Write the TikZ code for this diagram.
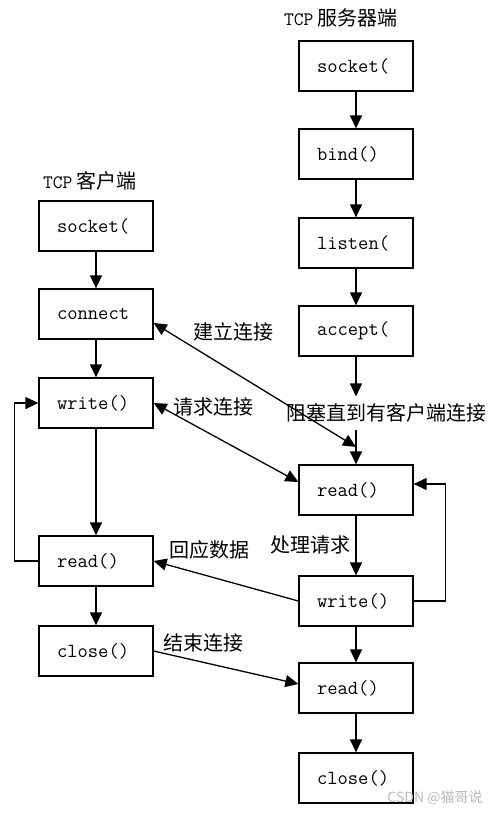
\documentclass[tikz,border=0pt]{standalone}
\usepackage{fontspec}
\newfontfamily\cjk{Noto Sans CJK SC}
\usetikzlibrary{arrows.meta,calc}

\begin{document}
\begin{tikzpicture}[x=1pt,y=-1pt]
        \tikzset{box/.style={draw,line width=1.3pt,minimum width=114pt,minimum height=50pt,
                inner xsep=18pt,text width=78pt,align=left,
                font=\fontsize{20}{22}\selectfont\ttfamily},
            lbl/.style={font=\fontsize{20}{24}\selectfont\cjk,inner sep=1pt},
            arr/.style={line width=1.3pt,-{Triangle[length=13pt,width=12pt]}},
            twoway/.style={line width=1.3pt,{Triangle[length=13pt,width=12pt]}-{Triangle[length=13pt,width=12pt]}}}
        \useasboundingbox (0,0) rectangle (500,815);
        % client side
        \node[lbl] (ctitle) at (90,181) {{\fontsize{19}{22}\selectfont\ttfamily TCP} 客户端};
        \node[box] (csock) at (96,226) {socket(};
        \node[box] (conn) at (96,314) {connect};
        \node[box] (cwrite) at (96,403) {write()};
        \node[box] (cread) at (96,561) {read()};
        \node[box] (cclose) at (96,651) {close()};
        % server side
        \node[lbl] (stitle) at (341,18) {{\fontsize{19}{22}\selectfont\ttfamily TCP} 服务器端};
        \node[box] (ssock) at (356,66) {socket(};
        \node[box] (sbind) at (356,154) {bind()};
        \node[box] (slisten) at (356,243) {listen(};
        \node[box] (saccept) at (356,331) {accept(};
        \node[lbl,inner ysep=7pt] (block) at (386,413) {阻塞直到有客户端连接};
        \node[box] (sread) at (356,490) {read()};
        \node[box] (swrite) at (356,601) {write()};
        \node[box] (sread2) at (356,688) {read()};
        \node[box] (sclose) at (356,778) {close()};
        % labels
        \node[lbl] (setup) at (233,332) {建立连接};
        \node[lbl] (ask) at (213,407) {请求连接};
        \node[lbl] (handle) at (310,545) {处理请求};
        \node[lbl] (reply) at (209,550) {回应数据};
        \node[lbl] (finish) at (203,643) {结束连接};
        \node[font=\fontsize{14}{16}\selectfont\cjk,text=gray!55] (mark) at (435,798) {CSDN @猫哥说};
        % steps
        \foreach \a/\b in {csock/conn,conn/cwrite,cwrite/cread,cread/cclose,
                ssock/sbind,sbind/slisten,slisten/saccept,sread/swrite,swrite/sread2,sread2/sclose}
            \draw[arr] (\a) -- (\b);
        \draw[arr] (saccept) -- (saccept |- block.north);
        \draw[arr] (sread |- block.south) -- (sread);
        \coordinate (meet) at ($(sread |- block.south)!0.5!(sread.north)$);
        % loops
        \draw[arr] (cread.west) -- ++(-24,0) |- (cwrite.west);
        \draw[arr] (swrite.east) -- ++(32,0) |- ([yshift=6pt]sread.east);
        % messages
        \draw[twoway] ([yshift=-9pt]conn.east) -- (meet);
        \draw[twoway] (cwrite.east) -- ([yshift=8pt]sread.west);
        \draw[arr] (swrite.west) -- (cread.east);
        \draw[arr] (cclose.east) -- ([yshift=4pt]sread2.west);
    \end{tikzpicture}
\end{document}
